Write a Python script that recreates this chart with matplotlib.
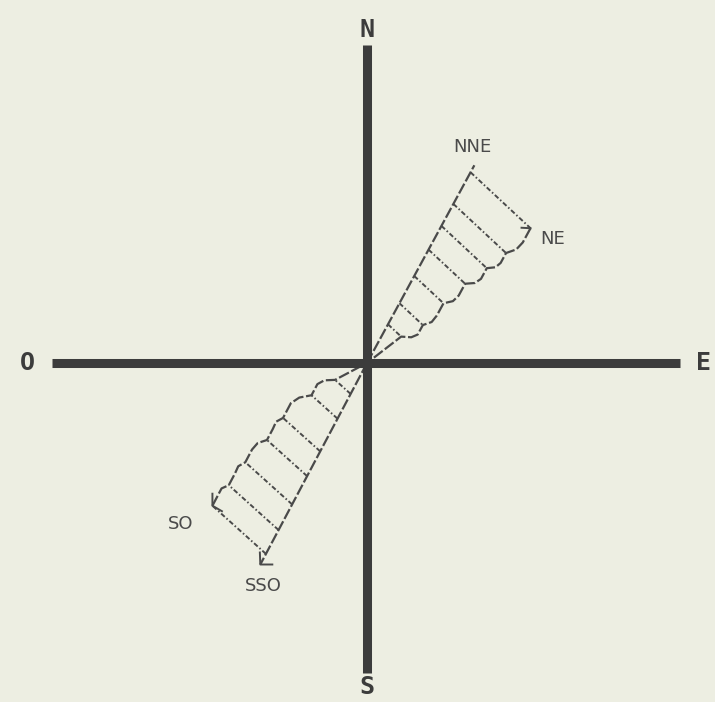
import numpy as np
import matplotlib
matplotlib.use("Agg")
import matplotlib.pyplot as plt

# ---- data (bearings in degrees clockwise from North, lengths in chart units) ----
compass_labels = ["N", "E", "S", "O"]
compass_bearings = [0, 90, 180, 270]
axis_half_len = [318, 313, 310, 315]     # N, E, S, O arm lengths

# NNE-NE sector
ne_ray_bearing = 28.5
ne_ray_len = 225
ne_hatch_r = [217, 181, 156, 129, 99, 68, 44]
ne_hatch_len = [82, 72, 62, 50, 40, 32, 18]
ne_hatch_bearing = 133
ne_labels = ["NNE", "NE"]

# SSO-SO sector
sw_ray_bearing = 207.9
sw_ray_len = 228
sw_hatch_r = [216, 189, 160, 128, 100, 63, 35]
sw_hatch_len = [72, 67, 63, 54, 50, 35, 21]
sw_hatch_bearing = 312
sw_labels = ["SSO", "SO"]

BG = "#edeee2"
INK = "#3c3c3c"
INK2 = "#4a4a4a"


def vec(bearing, r):
    b = np.deg2rad(bearing)
    return np.array([r * np.sin(b), r * np.cos(b)])


fig = plt.figure(figsize=(7.15, 7.02), dpi=100, facecolor=BG)
ax = fig.add_axes([0, 0, 1, 1])
ax.set_facecolor(BG)
ax.set_xlim(-367, 348)
ax.set_ylim(-339, 363)
ax.axis("off")

# main cross
for b, L in zip(compass_bearings, axis_half_len):
    p = vec(b, L)
    ax.plot([0, p[0]], [0, p[1]], color=INK, lw=6.5, solid_capstyle="butt", zorder=3)

label_pos = {"N": (0, 333), "E": (336, 0), "S": (0, -324), "O": (-340, 0)}
for lab in compass_labels:
    x, y = label_pos[lab]
    ax.text(x, y, lab, ha="center", va="center", fontsize=18, color=INK,
            family="DejaVu Sans Mono", fontweight="bold", zorder=4)


def draw_sector(ray_bearing, ray_len, hatch_r, hatch_len, hatch_bearing):
    dash_edge = (0, (5, 1.2))
    dash_hatch = (0, (2.5, 1.2, 0.8, 1.2))
    # straight ray
    tip = vec(ray_bearing, ray_len)
    ax.plot([0, tip[0]], [0, tip[1]], color=INK2, lw=1.6, ls=dash_edge, zorder=2)
    starts = [vec(ray_bearing, r) for r in hatch_r]
    ends = [s + vec(hatch_bearing, L) for s, L in zip(starts, hatch_len)]
    # hatch lines
    for s, e in zip(starts, ends):
        ax.plot([s[0], e[0]], [s[1], e[1]], color=INK2, lw=1.4, ls=dash_hatch, zorder=2)
    # jagged outer edge
    pts = [ends[0]]
    for k in range(len(ends) - 1):
        a, b = ends[k], ends[k + 1]
        step = vec(ray_bearing, -(hatch_r[k] - hatch_r[k + 1]) * 0.45)
        pts.append(a + step)
        pts.append(a + step + (b - a - step) * 0.5 + vec(hatch_bearing, 2.5))
        pts.append(b)
    pts.append(np.array([0.0, 0.0]))
    pts = np.array(pts)
    ax.plot(pts[:, 0], pts[:, 1], color=INK2, lw=1.6, ls=dash_edge, zorder=2)
    return tip, ends[0]


tip, corner = draw_sector(ne_ray_bearing, ne_ray_len, ne_hatch_r, ne_hatch_len, ne_hatch_bearing)
# small hook at NE corner
h = corner + vec(ne_hatch_bearing + 140, 9)
ax.plot([corner[0], h[0]], [corner[1], h[1]], color=INK2, lw=1.4, zorder=2)
ax.text(tip[0] - 2, tip[1] + 18, ne_labels[0], ha="center", va="center",
        fontsize=13, color=INK2, family="DejaVu Sans")
ax.text(corner[0] + 22, corner[1] - 11, ne_labels[1], ha="center", va="center",
        fontsize=13, color=INK2, family="DejaVu Sans")

tip, corner = draw_sector(sw_ray_bearing, sw_ray_len, sw_hatch_r, sw_hatch_len, sw_hatch_bearing)
# hooks at SSO tip and SO corner
h1 = tip + vec(sw_ray_bearing + 150, 12)
h2 = tip + vec(90, 12)
ax.plot([h1[0], tip[0], h2[0]], [h1[1], tip[1], h2[1]], color=INK2, lw=1.4, zorder=2)
c1 = corner + vec(0, 12)
c2 = corner + vec(120, 11)
ax.plot([c1[0], corner[0], c2[0]], [c1[1], corner[1], c2[1]], color=INK2, lw=1.4, zorder=2)
ax.text(tip[0] + 3, tip[1] - 22, sw_labels[0], ha="center", va="center",
        fontsize=13, color=INK2, family="DejaVu Sans")
ax.text(corner[0] - 32, corner[1] - 18, sw_labels[1], ha="center", va="center",
        fontsize=13, color=INK2, family="DejaVu Sans")

fig.savefig("out.png", dpi=100, facecolor=BG)
